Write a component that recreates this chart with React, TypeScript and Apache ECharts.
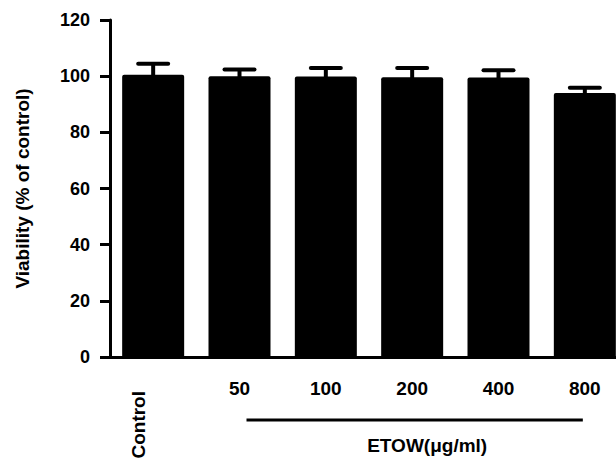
import React, { useEffect, useRef } from "react";
import * as echarts from "echarts";

const categories = ["Control", "50", "100", "200", "400", "800"];
const viability = [100.5, 100, 99.9, 99.6, 99.5, 94.0];
const errors = [3.9, 2.4, 3.0, 3.3, 2.6, 1.9];
const yMin = 0;
const yMax = 120;
const yStep = 20;
const yTitle = "Viability (% of control)";
const groupTitle = "ETOW(μg/ml)";

const FONT = "'Liberation Sans', Arial, sans-serif";

export default function App() {
  const ref = useRef<HTMLDivElement>(null);
  useEffect(() => {
    if (!ref.current) return;
    const chart = echarts.init(ref.current, undefined, { renderer: "svg" });
    const option: any = {
      animation: false,
      backgroundColor: "#ffffff",
      grid: { left: 110, top: 20, right: 12, bottom: 102, containLabel: false },
      xAxis: {
        type: "category",
        data: categories,
        boundaryGap: true,
        axisLine: { show: true, lineStyle: { color: "#000", width: 3 } },
        axisTick: { show: false },
        axisLabel: {
          margin: 22,
          color: "#000",
          fontFamily: FONT,
          fontWeight: "bold",
          fontSize: 19,
          formatter: (v: string) => (v === categories[0] ? "" : v),
        },
      },
      yAxis: {
        type: "value",
        min: yMin,
        max: yMax,
        interval: yStep,
        name: yTitle,
        nameLocation: "middle",
        nameGap: 78,
        nameRotate: 90,
        nameTextStyle: { color: "#000", fontFamily: FONT, fontWeight: "bold", fontSize: 19 },
        axisLine: { show: true, lineStyle: { color: "#000", width: 3 } },
        axisTick: { show: true, length: 10, lineStyle: { color: "#000", width: 3 } },
        axisLabel: { margin: 20, color: "#000", fontFamily: FONT, fontWeight: "bold", fontSize: 18 },
        splitLine: { show: false },
      },
      series: [
        {
          type: "bar",
          data: viability,
          barWidth: 62,
          itemStyle: { color: "#000", borderRadius: [2, 2, 0, 0] },
          z: 2,
        },
        {
          type: "custom",
          data: viability.map((v, i) => [i, v, v + errors[i]]),
          z: 3,
          renderItem: (params: any, api: any) => {
            const i = api.value(0);
            const base = api.coord([i, api.value(1)]);
            const top = api.coord([i, api.value(2)]);
            const hw = 15;
            return {
              type: "group",
              children: [
                {
                  type: "line",
                  shape: { x1: top[0], y1: base[1] + 1, x2: top[0], y2: top[1] },
                  style: { stroke: "#000", lineWidth: 4 },
                },
                {
                  type: "line",
                  shape: { x1: top[0] - hw, y1: top[1], x2: top[0] + hw, y2: top[1] },
                  style: { stroke: "#000", lineWidth: 4, lineCap: "round" },
                },
              ],
            };
          },
        },
      ],
    };
    chart.setOption(option);

    const p0 = chart.convertToPixel({ seriesIndex: 0 }, [0, 0]) as number[];
    const p1 = chart.convertToPixel({ seriesIndex: 0 }, [1, 0]) as number[];
    const p5 = chart.convertToPixel({ seriesIndex: 0 }, [categories.length - 1, 0]) as number[];
    const axisY = p0[1];
    chart.setOption({
      graphic: [
        {
          type: "text",
          x: p0[0] - 15,
          y: axisY + 34,
          rotation: Math.PI / 2,
          style: {
            text: categories[0],
            fill: "#000",
            font: `bold 19px ${FONT}`,
            align: "right",
            verticalAlign: "middle",
          },
        },
        {
          type: "line",
          shape: { x1: p1[0] + 7, y1: axisY + 63, x2: p5[0] - 2, y2: axisY + 63 },
          style: { stroke: "#000", lineWidth: 3 },
        },
        {
          type: "text",
          x: (p1[0] + p5[0]) / 2 + 15,
          y: axisY + 88,
          style: {
            text: groupTitle,
            fill: "#000",
            font: `bold 19px ${FONT}`,
            align: "center",
            verticalAlign: "middle",
          },
        },
      ],
    });
    return () => chart.dispose();
  }, []);
  return (
    <div style={{ position: "fixed", left: 0, top: 0, width: 616, height: 459, overflow: "hidden", background: "#fff" }}>
      <div ref={ref} style={{ width: 640, height: 459 }} />
    </div>
  );
}
